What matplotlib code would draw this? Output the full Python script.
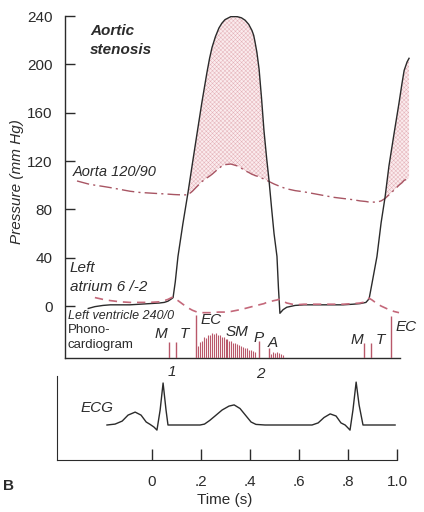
import matplotlib.pyplot as plt
import numpy as np

plt.rcParams['font.family'] = ['Liberation Sans', 'DejaVu Sans']

# pressure traces (mm Hg), time in s
t = [-0.306, -0.26, -0.233, -0.20, -0.17, -0.13, -0.09, -0.05, -0.01, 0.03,
     0.05, 0.065, 0.08, 0.086, 0.095, 0.106, 0.126, 0.147, 0.165, 0.184,
     0.204, 0.224, 0.235, 0.245, 0.259, 0.273, 0.285, 0.298, 0.322, 0.347,
     0.365, 0.380, 0.395, 0.408, 0.415, 0.420, 0.428, 0.437, 0.447, 0.457,
     0.468, 0.478, 0.488, 0.498, 0.510, 0.516, 0.522, 0.535, 0.55, 0.584,
     0.62, 0.66, 0.70, 0.74, 0.78, 0.82, 0.849, 0.873, 0.886, 0.898,
     0.918, 0.935, 0.951, 0.967, 0.988, 1.008, 1.020, 1.029, 1.041, 1.049]
lv = [np.nan, -2, -0.5, 0.5, 1, 1, 1, 1.5, 2, 2.5,
      3, 4, 6, 7, 20, 41, 68, 94, 118, 143,
      169, 193, 205, 214, 223, 230, 234, 237, 239.5, 239.5,
      238.5, 236.5, 233, 228, 224, 219, 210, 196, 172, 145,
      122, 103, 81, 60, 41, 15, -6, -3, -1, 0.5,
      1, 1, 1, 1, 1, 1.5, 2, 3, 6, 19,
      41, 69, 90, 116, 143, 168, 184, 195, 202, 205]
la = [np.nan, np.nan, 7, 5.5, 4.5, 3.5, 3, 3, 3, 3.5,
      4.5, 5.5, 7, 7.5, 6, 4.5, 1.5, -1.5, -3.5, -5,
      -5.5, -5.5, -5.5, -5.5, -5.2, -5, -5, -5, -4.5, -3.5,
      -2.8, -2, -1.2, -0.5, -0.2, 0, 0.5, 1, 1.5, 2,
      3, 3.5, 4, 4.5, 5, 5.5, 5.5, 4, 2.5, 1,
      1.5, 1.5, 1.5, 1.5, 1.5, 2, 2.5, 3.5, 6.5, 5,
      2, 0, -1.5, -3, -4.5, -5.5, np.nan, np.nan, np.nan, np.nan]
aorta = [103.5, 101, 100, 99, 98, 96.5, 95, 94, 93.5, 93,
         92.8, 92.6, 92.4, 92.3, 92.2, 92.1, 92, 92, 95, 99,
         103, 106, 107.5, 109, 111.5, 114, 115.8, 117, 117.5, 116,
         114, 112, 110.5, 109, 108.5, 108, 107.5, 107, 106, 105,
         104, 103, 102, 101, 100, 99.5, 99, 98, 97, 95.5,
         94.5, 93, 91.5, 90, 89, 88, 87, 86.5, 86, 86,
         86, 87, 89, 92, 96, 100, 102, 104, 105, 106]

# phonocardiogram: single sounds M, T, EC, P, A, M, T, EC
sound_t = [0.069, 0.098, 0.180, 0.437, 0.478, 0.865, 0.894, 0.976]
sound_amp = [16, 16, 43, 17, 10, 15, 15, 42]
# systolic murmur
murmur_t = [0.188, 0.196, 0.204, 0.212, 0.220, 0.228, 0.236, 0.244, 0.252, 0.260,
            0.268, 0.276, 0.284, 0.292, 0.300, 0.308, 0.316, 0.324, 0.332, 0.340,
            0.348, 0.356, 0.364, 0.372, 0.380, 0.388, 0.396, 0.404, 0.412, 0.420]
murmur_amp = [12, 16, 17, 21, 20, 23, 23, 25, 24, 25,
              23, 23, 21, 21, 19, 19, 17, 17, 15, 15,
              14, 13, 12, 11, 10, 10, 8, 8, 7, 6]
tail_t = [0.486, 0.494, 0.502, 0.510, 0.518, 0.526, 0.534]
tail_amp = [4, 6, 5, 6, 5, 4, 3]

# ECG (mV)
ecg_t = [-0.184, -0.151, -0.122, -0.098, -0.069, -0.045, -0.024, -0.008, 0.008, 0.020,
         0.033, 0.045, 0.057, 0.065, 0.196, 0.214, 0.235, 0.257, 0.286, 0.314,
         0.335, 0.359, 0.384, 0.404, 0.424, 0.461, 0.653, 0.678, 0.702, 0.727,
         0.751, 0.771, 0.788, 0.800, 0.808, 0.820, 0.833, 0.845, 0.861, 0.992]
ecg_mv = [0, 0.03, 0.13, 0.33, 0.43, 0.33, 0.1, 0.02, -0.07, -0.17,
          0.5, 1.4, 0.5, 0, 0, 0.03, 0.15, 0.3, 0.5, 0.63,
          0.67, 0.55, 0.3, 0.1, 0.02, 0, 0, 0.07, 0.25, 0.37,
          0.3, 0.07, 0, -0.1, -0.17, 0.5, 1.43, 0.67, 0, 0]

p_ticks = [0, 40, 80, 120, 160, 200, 240]
time_ticks = [0, 0.2, 0.4, 0.6, 0.8, 1.0]
time_labels = ['0', '.2', '.4', '.6', '.8', '1.0']

W, H = 424, 512
INK = '#2b2b2b'
ROSE = '#b9586a'


def rect(x0, y0, x1, y1):
    return [x0 / W, 1 - y1 / H, (x1 - x0) / W, (y1 - y0) / H]


fig = plt.figure(figsize=(W / 100, H / 100), dpi=100)
fig.patch.set_facecolor('white')

t = np.array(t)
lv = np.array(lv, dtype=float)
la = np.array(la, dtype=float)
aorta = np.array(aorta, dtype=float)

# pressure panel
ax = fig.add_axes(rect(65, 16, 412, 358))
ax.set_xlim(-0.355, 1.061)
ax.set_ylim(-43, 240)
ax.patch.set_alpha(0)
for s in ['top', 'right']:
    ax.spines[s].set_visible(False)
for s in ['left', 'bottom']:
    ax.spines[s].set_color(INK)
    ax.spines[s].set_linewidth(1.0)
ax.spines['bottom'].set_bounds(-0.355, 1.01)
ax.set_xticks([])
ax.set_yticks(p_ticks)
ax.tick_params(axis='y', direction='in', length=7, width=1, colors=INK,
               labelsize=11, pad=9)

plt.rcParams['hatch.linewidth'] = 0.35
ax.fill_between(t, lv, aorta, where=lv >= aorta, interpolate=True,
                facecolor='#fbecee', edgecolor='#e4b2b9', hatch='xxxxxxxx',
                linewidth=0, zorder=1)
ax.plot(t, aorta, color='#a85563', lw=1.0, ls=(0, (9, 3, 1.5, 3)), zorder=3)
ax.plot(t, lv, color=INK, lw=1.0, zorder=4)
ax.plot(t, la, color='#c4687a', lw=1.2, ls=(0, (5, 3.5)), zorder=5)

ax.text(-0.253, 227.6, 'Aortic', fontsize=11, fontweight='bold', style='italic',
        color=INK, va='center')
ax.text(-0.253, 211.9, 'stenosis', fontsize=11, fontweight='bold', style='italic',
        color=INK, va='center')
ax.text(-0.322, 110.9, 'Aorta 120/90', fontsize=10.5, style='italic', color=INK,
        va='center')
ax.text(-0.335, 31.4, 'Left', fontsize=11, style='italic', color=INK, va='center')
ax.text(-0.335, 15.7, 'atrium 6 /-2', fontsize=11, style='italic', color=INK,
        va='center')
ax.text(-0.343, -8.3, 'Left ventricle 240/0', fontsize=9, style='italic',
        color=INK, va='center')
ax.text(-0.343, -19.9, 'Phono-', fontsize=9.5, color=INK, va='center')
ax.text(-0.343, -32.3, 'cardiogram', fontsize=9.5, color=INK, va='center')

# phonocardiogram panel (amplitude in arbitrary units)
axp = fig.add_axes(rect(65, 300, 412, 358))
axp.set_xlim(-0.355, 1.061)
axp.set_ylim(0, 58)
axp.axis('off')
axp.vlines(sound_t, 0, sound_amp, color=ROSE, lw=1.0)
axp.vlines(murmur_t, 0, murmur_amp, color=ROSE, lw=0.8)
axp.vlines(tail_t, 0, tail_amp, color=ROSE, lw=0.8)

labels = [('M', 0.037, 24), ('T', 0.131, 24), ('EC', 0.241, 38), ('SM', 0.347, 26),
          ('P', 0.433, 20), ('A', 0.494, 15), ('M', 0.837, 18), ('T', 0.93, 18),
          ('EC', 1.037, 31), ('1', 0.082, -14), ('2', 0.441, -16)]
for txt, x, y in labels:
    axp.text(x, y, txt, fontsize=11, style='italic', color=INK,
             ha='center', va='center', clip_on=False)

# ECG panel with time axis
axe = fig.add_axes(rect(57, 376, 412, 460))
axe.set_xlim(-0.388, 1.061)
axe.set_ylim(-35 / 30, 49 / 30)
axe.patch.set_alpha(0)
for s in ['top', 'right']:
    axe.spines[s].set_visible(False)
for s in ['left', 'bottom']:
    axe.spines[s].set_color(INK)
axe.spines['bottom'].set_bounds(-0.388, 1.0)
axe.set_yticks([])
axe.set_xticks(time_ticks)
axe.set_xticklabels(time_labels)
axe.tick_params(axis='x', direction='in', length=8, width=1, colors=INK,
                labelsize=11, pad=11)
axe.plot(ecg_t, ecg_mv, color=INK, lw=1.0)
axe.text(-0.29, 0.55, 'ECG', fontsize=11, style='italic', color=INK, va='center')

fig.text(17 / W, 1 - 182 / H, 'Pressure (mm Hg)', rotation=90, fontsize=11,
         style='italic', color=INK, ha='center', va='center')
fig.text(225 / W, 1 - 500 / H, 'Time (s)', fontsize=11, color=INK,
         ha='center', va='center')
fig.text(8 / W, 1 - 486 / H, 'B', fontsize=11, fontweight='bold', color=INK,
         ha='center', va='center')

fig.savefig('out.png', dpi=100)
